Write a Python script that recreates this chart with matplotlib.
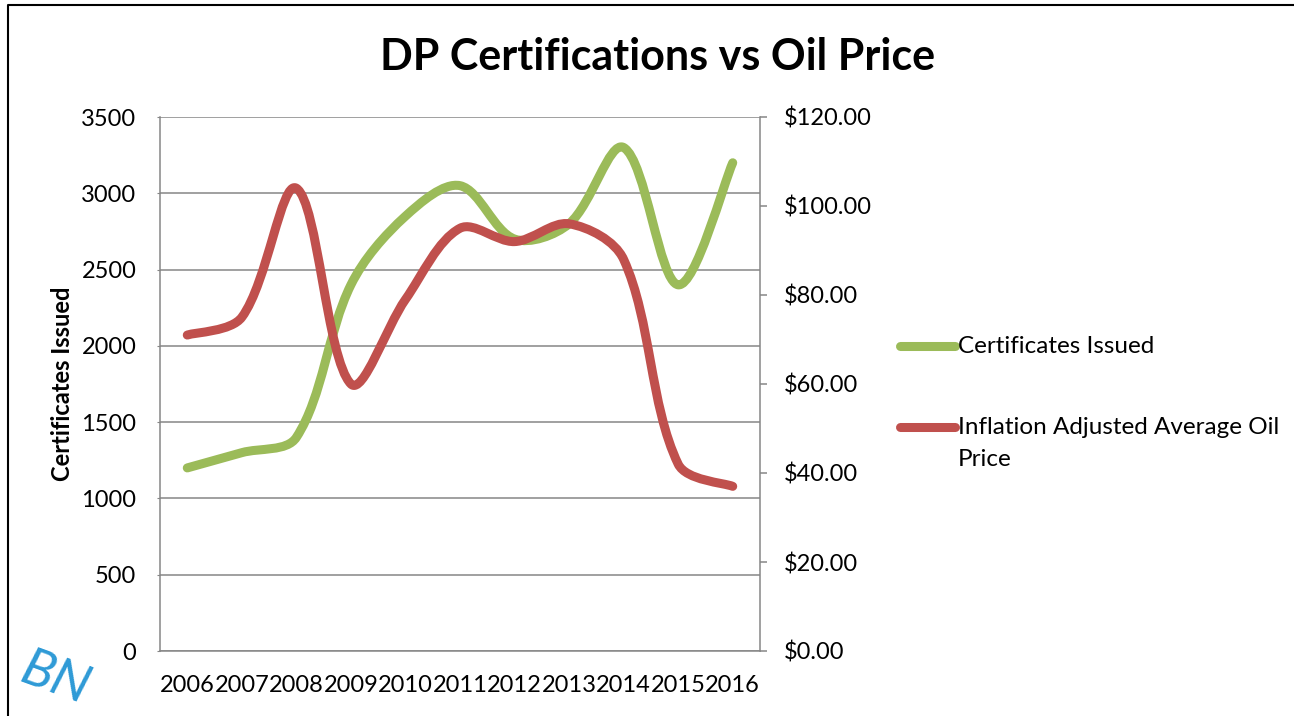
import matplotlib
matplotlib.use("Agg")
import matplotlib.pyplot as plt
from matplotlib.path import Path
from matplotlib.patches import PathPatch
from matplotlib.lines import Line2D
from matplotlib.ticker import FuncFormatter
import numpy as np

years = ["2006", "2007", "2008", "2009", "2010", "2011",
         "2012", "2013", "2014", "2015", "2016"]
certificates = [1200, 1300, 1400, 2400, 2850, 3050, 2700, 2800, 3300, 2400, 3200]
oil_price = [71, 75, 104, 60, 79, 95, 92, 96, 88, 42, 37]

green = "#9BBB59"
red = "#C0504D"
grid = "#868686"

plt.rcParams["font.family"] = ["Lato", "DejaVu Sans"]


def smooth_path(a, xs, ys):
	# excel style smoothed line, tangents weighted by chord length in pixels
	pts = a.transData.transform(np.column_stack([xs, ys]).astype(float))
	n = len(pts)
	d = np.hypot(*np.diff(pts, axis=0).T)
	tan = np.zeros_like(pts)
	for i in range(n):
		lo = max(i - 1, 0)
		hi = min(i + 1, n - 1)
		tan[i] = pts[hi] - pts[lo]
	verts = [pts[0]]
	codes = [Path.MOVETO]
	for i in range(n - 1):
		dl = d[i - 1] if i > 0 else d[i]
		dr = d[i + 1] if i < n - 2 else d[i]
		c1 = pts[i] + tan[i] * d[i] / (dl + d[i]) / 3.0
		c2 = pts[i + 1] - tan[i + 1] * d[i] / (d[i] + dr) / 3.0
		verts += [c1, c2, pts[i + 1]]
		codes += [Path.CURVE4] * 3
	verts = a.transData.inverted().transform(np.array(verts))
	return Path(verts, codes)


def main():
	fig = plt.figure(figsize=(12.94, 7.16), dpi=100)
	ax = fig.add_axes([160 / 1294, 1 - 651 / 716, 600 / 1294, 534 / 716])
	ax2 = ax.twinx()

	x = np.arange(len(years))

	ax.set_xlim(-0.5, len(years) - 0.5)
	ax.set_ylim(0, 3500)
	ax2.set_ylim(0, 120)

	p1 = PathPatch(smooth_path(ax, x, certificates), facecolor="none", edgecolor=green,
		lw=6.5, capstyle="round", joinstyle="round")
	ax.add_patch(p1)
	p2 = PathPatch(smooth_path(ax2, x, oil_price), facecolor="none", edgecolor=red,
		lw=6.5, capstyle="round", joinstyle="round")
	ax2.add_patch(p2)

	ax.set_xticks(x)
	ax.set_xticklabels(years)
	ax.set_yticks(np.arange(0, 3501, 500))
	ax2.set_yticks(np.arange(0, 121, 20))
	ax2.yaxis.set_major_formatter(FuncFormatter(lambda v, p: "${:.2f}".format(v)))

	ax.grid(axis="y", color=grid, lw=1.1)
	ax.set_axisbelow(True)

	for a in (ax, ax2):
		for s in a.spines.values():
			s.set_visible(False)
	ax.spines["left"].set_visible(True)
	ax.spines["bottom"].set_visible(True)
	ax2.spines["right"].set_visible(True)
	for s in (ax.spines["left"], ax.spines["bottom"], ax2.spines["right"]):
		s.set_color(grid)
		s.set_linewidth(1.1)

	ax.tick_params(axis="x", length=0, pad=17, labelsize=17)
	ax.tick_params(axis="y", length=2, color=grid, pad=15, labelsize=17)
	ax2.tick_params(axis="y", length=5, color=grid, width=1.1, pad=12, labelsize=17)

	ax.set_ylabel("Certificates Issued", fontsize=17, fontweight="bold", labelpad=5)

	fig.suptitle("DP Certifications vs Oil Price", x=658 / 1294, y=1 - 57 / 716,
		va="center", fontsize=31, fontweight="bold")

	# legend drawn by hand so the handle sits on the first line of the label
	fx = lambda px: px / 1294
	fy = lambda py: 1 - py / 716
	fig.add_artist(Line2D([fx(900), fx(955)], [fy(346), fy(346)], color=green, lw=6.5,
		solid_capstyle="round"))
	fig.text(fx(958), fy(346), "Certificates Issued", fontsize=17.5, va="center")
	fig.add_artist(Line2D([fx(900), fx(955)], [fy(427), fy(427)], color=red, lw=6.5,
		solid_capstyle="round"))
	fig.text(fx(958), fy(427), "Inflation Adjusted Average Oil", fontsize=17.5, va="center")
	fig.text(fx(958), fy(459), "Price", fontsize=17.5, va="center")

	# slide frame and logo corner
	fig.add_artist(Line2D([fx(8), fx(8), 1.0], [0.0, fy(5), fy(5)], color="black", lw=1.5))
	fig.text(fx(14), fy(713), "BN", color="#2E9AD6", fontsize=38, fontstyle="italic",
		fontweight="normal", rotation=-20, ha="left", va="bottom")

	fig.savefig("out.png", dpi=100)


if __name__ == "__main__":
	main()
